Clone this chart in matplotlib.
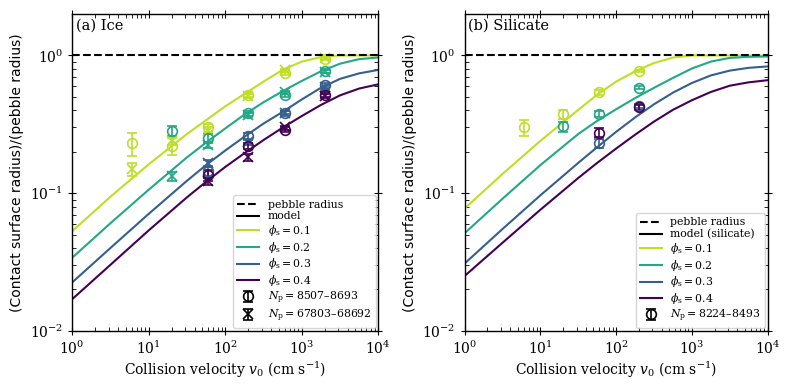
import numpy as np
import matplotlib
matplotlib.use("Agg")
from matplotlib import pyplot as plt
from matplotlib.lines import Line2D

matplotlib.rcParams.update({'font.size': 10, 'font.family': 'serif', 'font.serif': ['DejaVu Serif'],
                            'mathtext.fontset': 'dejavuserif', 'axes.linewidth': 1})

nan = np.nan
phis = [0.1, 0.2, 0.3, 0.4]
colors = [plt.cm.viridis(c) for c in [0.9, 0.6, 0.3, 0.0]]

## model curves
v_model = [1, 3.16, 10, 31.6, 56.2, 100, 178, 316, 562, 1000, 1778, 3162, 5623, 10000]
ice_model = [
    [0.053, 0.0942, 0.162, 0.269, 0.339, 0.427, 0.525, 0.646, 0.785, 0.902, 0.973, 1.0, 1.0, 1.0],
    [0.034, 0.0605, 0.106, 0.182, 0.233, 0.295, 0.372, 0.457, 0.55, 0.653, 0.767, 0.871, 0.94, 0.966],
    [0.0225, 0.040, 0.0708, 0.123, 0.160, 0.204, 0.257, 0.320, 0.389, 0.479, 0.582, 0.676, 0.741, 0.785],
    [0.017, 0.0302, 0.0537, 0.0933, 0.121, 0.155, 0.195, 0.243, 0.299, 0.363, 0.437, 0.513, 0.575, 0.617],
]
sil_model = [
    [0.0776, 0.138, 0.240, 0.403, 0.519, 0.646, 0.767, 0.881, 0.966, 1.0, 1.0, 1.0, 1.0, 1.0],
    [0.0513, 0.0912, 0.160, 0.269, 0.335, 0.407, 0.490, 0.582, 0.687, 0.804, 0.902, 0.960, 0.977, 0.982],
    [0.0309, 0.055, 0.0966, 0.166, 0.216, 0.279, 0.355, 0.442, 0.537, 0.631, 0.716, 0.776, 0.813, 0.832],
    [0.0251, 0.0437, 0.0759, 0.129, 0.166, 0.211, 0.266, 0.331, 0.403, 0.473, 0.543, 0.603, 0.638, 0.661],
]

## simulation points, ice
v_ice = [6, 20, 60, 200, 600, 2000]
ice_small = [
    [0.23, 0.22, 0.30, 0.52, 0.75, 0.95],
    [nan, 0.285, 0.25, 0.38, 0.52, 0.77],
    [nan, nan, 0.145, 0.26, 0.38, 0.61],
    [nan, nan, 0.135, 0.22, 0.29, 0.52],
]
ice_small_err = [
    [0.045, 0.03, 0.02, 0.02, 0.03, 0.03],
    [nan, 0.025, 0.02, 0.015, 0.02, 0.025],
    [nan, nan, 0.012, 0.015, 0.015, 0.025],
    [nan, nan, 0.012, 0.012, 0.012, 0.02],
]
ice_large = [
    [0.15, 0.24, 0.285, 0.51, 0.78, 0.96],
    [nan, 0.133, 0.225, 0.37, 0.54, 0.76],
    [nan, nan, 0.165, 0.235, 0.385, 0.59],
    [nan, nan, 0.122, 0.182, 0.30, 0.51],
]
ice_large_err = [
    [0.017, 0.015, 0.015, 0.015, 0.02, 0.02],
    [nan, 0.01, 0.012, 0.012, 0.015, 0.02],
    [nan, nan, 0.01, 0.012, 0.012, 0.015],
    [nan, nan, 0.008, 0.01, 0.01, 0.015],
]

## simulation points, silicate
v_sil = [6, 20, 60, 200]
sil_small = [
    [0.30, 0.375, 0.54, 0.77],
    [nan, 0.305, 0.375, 0.585],
    [nan, nan, 0.23, 0.43],
    [nan, nan, 0.275, 0.42],
]
sil_small_err = [
    [0.04, 0.03, 0.02, 0.015],
    [nan, 0.025, 0.02, 0.015],
    [nan, nan, 0.018, 0.015],
    [nan, nan, 0.02, 0.015],
]

W, H = 7.93, 3.88
fig = plt.figure(figsize=(W, H), dpi=100)
ax_a = fig.add_axes([0.091, 0.147, 0.386, 0.817])
ax_b = fig.add_axes([0.586, 0.147, 0.382, 0.817])

ebkw = dict(capsize=3.5, markersize=7, mfc='none', ls='none', elinewidth=1.2, capthick=1.2, mew=1.2)
legkw = dict(loc='lower right', fontsize=7.8, framealpha=0.8, labelspacing=0.15,
             handleheight=0.6, borderaxespad=0.25)


def setup(ax, title, model_label):
    ax.set(xscale='log', yscale='log', xlim=(1, 1e4), ylim=(1e-2, 2))
    ax.axhline(1, color='k', ls='--', lw=1.5, zorder=5)
    ax.text(0.012, 0.985, title, transform=ax.transAxes, ha='left', va='top', fontsize=10.5)
    ax.set_xlabel(r"Collision velocity $v_0$ (cm s$^{-1}$)", labelpad=2)
    ax.set_ylabel("(Contact surface radius)/(pebble radius)", family='DejaVu Sans')
    ax.tick_params(which='major', direction='inout', length=6, top=True, right=True)
    ax.tick_params(which='minor', direction='in', length=3, top=True, right=True)
    handles = [Line2D([], [], color='k', ls='--', lw=1.5, label='pebble radius'),
               Line2D([], [], color='k', lw=1.5, label=model_label)]
    return handles


# (a) ice
handles = setup(ax_a, "(a) Ice", "model")
for i, phi in enumerate(phis):
    l, = ax_a.plot(v_model, ice_model[i], color=colors[i], lw=1.5, label=r"$\phi_{\rm s} = %.1f$" % phi)
    handles.append(l)
for i in range(4):
    ax_a.errorbar(v_ice, ice_small[i], yerr=ice_small_err[i], fmt='o', color=colors[i], **ebkw)
    ax_a.errorbar(v_ice, ice_large[i], yerr=ice_large_err[i], fmt='x', color=colors[i], **ebkw)
h1 = ax_a.errorbar([nan], [nan], yerr=[nan], fmt='o', color='k', label=r"$N_{\rm p} = 8507$–$8693$", **ebkw)
h2 = ax_a.errorbar([nan], [nan], yerr=[nan], fmt='x', color='k', label=r"$N_{\rm p} = 67803$–$68692$", **ebkw)
handles += [h1, h2]
ax_a.legend(handles=handles, **legkw)

# (b) silicate
handles = setup(ax_b, "(b) Silicate", "model (silicate)")
for i, phi in enumerate(phis):
    l, = ax_b.plot(v_model, sil_model[i], color=colors[i], lw=1.5, label=r"$\phi_{\rm s} = %.1f$" % phi)
    handles.append(l)
for i in range(4):
    ax_b.errorbar(v_sil, sil_small[i], yerr=sil_small_err[i], fmt='o', color=colors[i], **ebkw)
h1 = ax_b.errorbar([nan], [nan], yerr=[nan], fmt='o', color='k', label=r"$N_{\rm p} = 8224$–$8493$", **ebkw)
handles.append(h1)
ax_b.legend(handles=handles, **legkw)

fig.savefig("out.png", dpi=100)
